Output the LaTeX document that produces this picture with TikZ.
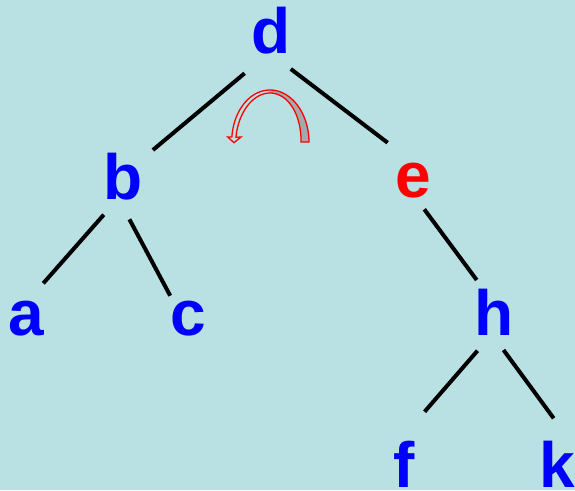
\documentclass[tikz,border=0pt]{standalone}
\usepackage{fontspec}
\setmainfont{Liberation Sans}
\usetikzlibrary{calc}
\definecolor{bg}{HTML}{B9E0E3}
\definecolor{arrowgrey}{HTML}{A3AAAB}
\begin{document}
\begin{tikzpicture}[x=1pt,y=-1pt,
  lbl/.style={inner sep=0pt, anchor=base, font=\fontsize{64}{64}\selectfont\bfseries, text=blue},
  edge/.style={line width=4pt, black},
  turn/.style={draw=red, line width=1.3pt, line join=miter}]
\fill[bg] (0,0) rectangle (575,490);
\useasboundingbox (0,0) rectangle (575,490);
\node[lbl] (d) at (271,53) {d};
\node[lbl] (b) at (123,199) {b};
\node[lbl, text=red] (e) at (413,197) {e};
\node[lbl] (a) at (26,335) {a};
\node[lbl] (c) at (188,335) {c};
\node[lbl] (h) at (494,335) {h};
\node[lbl] (f) at (404,487) {f};
\node[lbl] (k) at (557,487) {k};
\draw[edge] ($(d.base)+(-26.4,20.3)$) -- ($(b.base)+(29.9,-49)$);
\draw[edge] ($(d.base)+(19.8,16)$) -- ($(e.base)+(-25.4,-54.3)$);
\draw[edge] ($(b.base)+(-19.2,15.7)$) -- ($(a.base)+(17.3,-51.7)$);
\draw[edge] ($(b.base)+(6.4,20.3)$) -- ($(c.base)+(-17.8,-39.3)$);
\draw[edge] ($(e.base)+(11.3,12.3)$) -- ($(h.base)+(-17.3,-55)$);
\draw[edge] ($(h.base)+(-16.5,15.7)$) -- ($(f.base)+(20.6,-75.3)$);
\draw[edge] ($(h.base)+(9.5,15)$) -- ($(k.base)+(-3.3,-68.7)$);
% curved turn arrow
\fill[arrowgrey] plot[domain=0:92, samples=30] ({270+(39-0.7*\x/180)*cos(\x)},{142-52*sin(\x)})
  -- plot[domain=92:0, samples=30] ({270+(31+3.3*\x/180)*cos(\x)},{142-49*sin(\x)}) -- cycle;
\draw[turn] plot[domain=0:174.5, samples=60] ({270+(39-0.7*\x/180)*cos(\x)},{142-52*sin(\x)})
  -- (227.7,137) -- (234,142.7) -- (241,137)
  -- plot[domain=174.5:0, samples=60] ({270+(31+3.3*\x/180)*cos(\x)},{142-49*sin(\x)}) -- cycle;
\end{tikzpicture}
\end{document}
